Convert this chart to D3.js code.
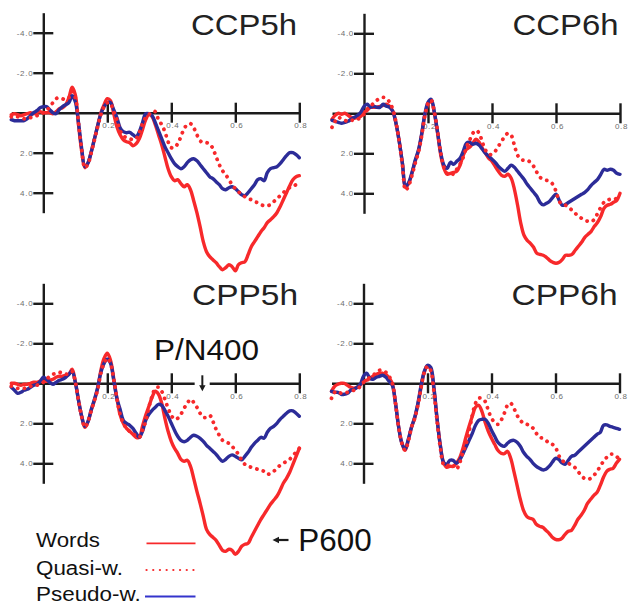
<!DOCTYPE html>
<html><head><meta charset="utf-8">
<script src="https://cdn.jsdelivr.net/npm/d3@7"></script>
<style>
html,body{margin:0;padding:0;background:#fff;}
svg{display:block;font-family:"Liberation Sans",Arial,Helvetica,sans-serif;}
</style>
</head><body>
<svg id="chart" width="629" height="605"></svg>
<script>
// ---------- data ----------
const times = [
 -0.10,-0.09,-0.08,-0.07,-0.06,-0.05,-0.04,-0.03,-0.02,-0.01,
 0.00,0.01,0.02,0.03,0.04,0.05,0.06,0.07,0.08,0.09,
 0.10,0.11,0.12,0.13,0.14,0.15,0.16,0.17,0.18,0.19,
 0.20,0.21,0.22,0.23,0.24,0.25,0.26,0.27,0.28,0.29,
 0.30,0.31,0.32,0.33,0.34,0.35,0.36,0.37,0.38,0.39,
 0.40,0.41,0.42,0.43,0.44,0.45,0.46,0.47,0.48,0.49,
 0.50,0.51,0.52,0.53,0.54,0.55,0.56,0.57,0.58,0.59,
 0.60,0.61,0.62,0.63,0.64,0.65,0.66,0.67,0.68,0.69,
 0.70,0.71,0.72,0.73,0.74,0.75,0.76,0.77,0.78,0.79,
 0.80];
const seriesNames = ["Words", "Quasi-w.", "Pseudo-w."];
const panelTitles = ["CCP5h", "CCP6h", "CPP5h", "CPP6h"];
const yTickValues = [-4, -2, 2, 4];
const xTickValues = [0.2, 0.4, 0.6, 0.8];
const annotations = ["P/N400", "P600"];

// CCP5h
const ccp5hWords = [
 0.1,0.05,0.1,0.15,0.1,0.05,0.0,0.05,0.0,-0.05,
 0.0,0.0,0.0,0.05,-0.05,-0.2,-0.25,-0.4,-0.75,-1.27,
 -0.9,0.6,1.93,2.75,2.5,1.95,1.3,0.65,0.0,-0.4,
 -0.7,-0.6,0.05,0.7,1.1,1.35,1.45,1.5,1.65,1.55,
 1.3,0.85,0.35,0.1,0.2,0.6,1.1,1.6,2.2,2.8,
 3.2,3.4,3.35,3.55,3.7,3.6,3.85,4.4,5.0,5.7,
 6.45,6.95,7.2,7.35,7.5,7.7,7.85,7.75,7.6,7.7,
 7.9,7.6,7.5,7.45,7.1,6.7,6.45,6.2,5.95,5.75,
 5.5,5.35,5.2,5.0,4.7,4.35,4.0,3.65,3.35,3.2,
 3.15];
const ccp5hQuasi = [
 0.2,0.15,0.2,0.25,0.3,0.3,0.25,0.2,0.15,0.1,
 0.0,-0.1,-0.3,-0.5,-0.7,-0.75,-0.7,-0.65,-0.75,-1.05,
 -0.75,0.5,1.85,2.75,2.55,2.0,1.35,0.7,0.1,-0.3,
 -0.5,-0.45,-0.05,0.35,0.9,1.15,1.25,1.3,1.35,1.3,
 1.0,0.55,0.25,0.1,-0.05,-0.05,0.35,0.6,0.95,1.45,
 1.75,1.75,1.55,1.2,0.8,0.6,0.55,0.75,1.1,1.4,
 1.5,1.5,1.55,1.8,2.2,2.6,2.9,3.1,3.35,3.6,
 3.8,3.95,4.1,4.2,4.3,4.35,4.45,4.5,4.6,4.65,
 4.65,4.6,4.45,4.3,4.15,4.0,3.85,3.75,3.7,3.6,
 3.6];
const ccp5hPseudo = [
 0.35,0.4,0.4,0.4,0.4,0.3,0.15,0.0,-0.1,-0.25,
 -0.3,-0.3,-0.15,0.0,0.05,-0.15,-0.3,-0.4,-0.5,-0.85,
 -0.55,0.5,1.8,2.7,2.5,1.95,1.3,0.65,0.05,-0.3,
 -0.5,-0.5,-0.15,0.25,0.75,0.95,1.0,0.98,1.1,1.2,
 0.95,0.5,0.05,0.05,0.15,0.5,0.9,1.3,1.7,2.0,
 2.3,2.55,2.7,2.8,2.7,2.5,2.35,2.3,2.4,2.6,
 2.8,3.0,3.2,3.3,3.45,3.6,3.8,3.85,3.75,3.7,
 3.8,3.95,4.1,4.15,4.0,3.8,3.6,3.35,3.3,3.4,
 3.0,2.8,2.75,2.7,2.55,2.35,2.15,2.0,2.0,2.1,
 2.25];

// CCP6h
const ccp6hWords = [
 0.3,0.1,0.0,0.05,0.0,0.1,0.2,0.25,0.2,0.15,
 -0.05,-0.15,-0.3,-0.3,-0.3,-0.35,-0.4,-0.45,-0.35,-0.1,
 0.5,1.4,2.5,3.7,3.5,3.0,2.4,1.9,1.1,0.1,
 -0.45,-0.6,0.0,1.0,2.1,2.75,3.05,3.0,2.95,2.9,
 2.6,2.1,1.8,1.7,1.5,1.3,1.45,1.75,2.0,2.25,
 2.4,2.65,2.9,3.1,3.15,3.05,3.25,3.8,4.6,5.5,
 6.1,6.35,6.5,6.7,7.0,7.05,7.1,7.2,7.35,7.45,
 7.5,7.45,7.3,7.1,7.1,7.05,6.85,6.65,6.45,6.2,
 6.05,5.9,5.65,5.45,5.15,4.75,4.6,4.55,4.45,4.35,
 4.0];
const ccp6hQuasi = [
 0.7,0.4,0.2,0.3,0.35,0.4,0.35,0.35,0.3,0.2,
 0.05,-0.2,-0.35,-0.5,-0.65,-0.75,-0.8,-0.75,-0.55,-0.2,
 0.45,1.4,2.6,3.85,3.6,3.1,2.5,1.95,1.15,0.15,
 -0.5,-0.65,-0.05,0.9,2.0,2.7,3.0,2.95,3.05,2.8,
 2.55,2.2,1.7,1.35,1.0,0.85,1.0,1.45,1.85,2.05,
 2.05,1.9,1.65,1.4,1.15,1.0,1.1,1.6,2.1,2.3,
 2.35,2.35,2.45,2.65,2.95,3.2,3.3,3.35,3.4,3.55,
 3.9,4.4,4.55,4.6,4.7,4.85,5.0,5.15,5.25,5.35,
 5.4,5.42,5.3,5.0,4.7,4.45,4.35,4.3,4.3,4.25,
 4.1];
const ccp6hPseudo = [
 0.35,0.4,0.45,0.5,0.45,0.4,0.3,0.2,0.1,-0.05,
 -0.35,-0.45,-0.3,-0.35,-0.3,-0.3,-0.45,-0.35,-0.3,-0.1,
 0.5,1.4,2.5,3.65,3.45,2.95,2.35,1.85,1.05,0.05,
 -0.55,-0.7,-0.05,0.95,2.0,2.6,2.75,2.45,2.55,2.4,
 2.25,1.9,1.5,1.45,1.55,1.5,1.6,1.8,2.0,2.15,
 2.3,2.45,2.65,2.8,2.9,2.75,2.6,2.7,2.9,3.1,
 3.3,3.55,3.75,3.95,4.15,4.45,4.58,4.5,4.4,4.2,
 4.05,4.35,4.6,4.55,4.45,4.35,4.25,4.15,4.05,3.95,
 3.8,3.6,3.45,3.3,3.05,2.8,2.85,2.8,2.85,3.0,
 3.05];

// CPP5h
const cpp5hWords = [
 0.0,0.0,0.05,0.1,0.05,0.05,0.0,-0.05,-0.05,-0.1,
 -0.1,-0.1,-0.15,-0.2,-0.3,-0.35,-0.35,-0.4,-0.45,-0.7,
 -0.1,0.85,1.67,2.2,1.9,1.35,0.85,0.25,-0.65,-1.25,
 -1.5,-1.15,-0.25,0.75,1.58,2.0,2.25,2.4,2.55,2.7,
 2.7,2.15,1.6,1.15,0.7,0.4,0.55,1.0,1.75,2.4,
 2.9,3.25,3.5,3.8,3.9,3.85,4.15,4.75,5.4,6.0,
 6.65,7.3,7.55,7.7,7.85,8.1,8.35,8.4,8.3,8.35,
 8.55,8.4,8.15,8.05,8.0,7.7,7.4,7.1,6.8,6.55,
 6.3,6.05,5.85,5.65,5.35,5.0,4.75,4.45,4.05,3.65,
 3.25];
const cpp5hQuasi = [
 0.15,0.2,0.25,0.25,0.25,0.2,0.15,0.15,0.1,0.0,
 -0.05,-0.2,-0.35,-0.45,-0.5,-0.55,-0.5,-0.45,-0.5,-0.6,
 -0.05,0.85,1.67,2.2,1.9,1.35,0.85,0.3,-0.5,-1.0,
 -1.25,-1.0,-0.2,0.75,1.55,2.0,2.25,2.4,2.5,2.65,
 2.7,2.35,1.9,1.2,0.65,0.25,0.2,0.4,0.8,1.25,
 1.6,1.8,1.75,1.55,1.25,1.0,0.8,0.95,1.2,1.5,
 1.7,1.7,1.6,1.9,2.3,2.6,2.85,2.95,3.0,3.15,
 3.35,3.55,3.85,4.05,4.15,4.2,4.25,4.3,4.35,4.4,
 4.55,4.5,4.4,4.25,4.1,4.0,3.9,3.8,3.6,3.45,
 3.25];
const cpp5hPseudo = [
 0.2,0.35,0.5,0.45,0.35,0.3,0.2,0.1,0.05,-0.1,
 -0.3,-0.2,-0.05,0.05,-0.05,-0.15,-0.2,-0.3,-0.45,-0.6,
 -0.05,0.85,1.65,2.15,1.9,1.3,0.8,0.2,-0.55,-1.0,
 -1.2,-1.0,-0.15,0.75,1.3,1.85,2.0,2.1,2.25,2.5,
 2.7,2.4,1.85,1.55,1.35,1.2,1.05,1.1,1.35,1.65,
 2.0,2.35,2.65,2.85,2.92,2.85,2.7,2.6,2.65,2.75,
 2.9,3.1,3.25,3.4,3.55,3.75,3.9,3.8,3.65,3.58,
 3.65,3.75,3.83,3.65,3.45,3.2,3.0,2.85,2.7,2.75,
 2.45,2.25,2.15,2.0,1.8,1.65,1.5,1.38,1.38,1.5,
 1.65];

// CPP6h
const cpp6hWords = [
 0.4,0.15,0.05,0.0,0.0,0.1,0.2,0.25,0.2,0.1,
 -0.1,-0.15,-0.25,-0.35,-0.45,-0.5,-0.5,-0.45,-0.25,0.0,
 1.0,2.2,3.0,3.35,2.85,2.2,1.75,1.05,0.2,-0.55,
 -0.85,-0.7,0.3,1.8,3.1,3.95,4.2,4.15,4.15,4.0,
 3.75,3.3,2.7,2.15,1.65,1.2,1.1,1.4,1.95,2.4,
 2.75,3.05,3.35,3.5,3.52,3.4,3.75,4.4,5.1,5.8,
 6.35,6.65,6.75,6.8,7.05,7.15,7.2,7.35,7.5,7.7,
 7.8,7.82,7.75,7.55,7.4,7.35,7.1,6.8,6.6,6.35,
 6.0,5.8,5.6,5.45,5.1,4.7,4.4,4.3,4.25,4.0,
 3.8];
const cpp6hQuasi = [
 0.75,0.45,0.4,0.5,0.5,0.45,0.4,0.35,0.3,0.15,
 -0.05,-0.15,-0.3,-0.4,-0.55,-0.65,-0.65,-0.55,-0.35,0.0,
 1.0,2.2,3.0,3.35,2.9,2.2,1.75,1.1,0.2,-0.55,
 -0.85,-0.65,0.4,1.9,3.2,4.05,4.15,4.05,4.1,4.3,
 4.0,3.5,3.05,2.4,1.6,1.0,0.75,0.75,0.9,1.35,
 1.75,1.95,2.05,1.85,1.5,1.1,1.0,1.25,1.6,1.85,
 2.0,2.05,2.1,2.25,2.5,2.7,2.75,2.85,3.0,3.05,
 3.2,3.6,3.85,3.95,4.0,4.1,4.2,4.4,4.6,4.75,
 4.8,4.75,4.6,4.4,4.15,3.9,3.7,3.55,3.55,3.65,
 3.8];
const cpp6hPseudo = [
 0.4,0.45,0.45,0.55,0.55,0.5,0.35,0.3,0.2,0.05,
 -0.35,-0.5,-0.25,-0.2,-0.3,-0.35,-0.4,-0.3,-0.1,0.1,
 1.0,2.2,3.0,3.3,2.8,2.2,1.7,1.0,0.1,-0.6,
 -0.9,-0.8,0.2,1.8,3.1,3.95,4.05,3.85,3.85,4.0,
 3.85,3.55,3.2,2.85,2.5,2.1,1.85,1.8,1.8,2.0,
 2.35,2.65,2.95,3.1,3.15,3.0,2.88,2.85,2.95,3.15,
 3.45,3.65,3.8,4.0,4.15,4.25,4.33,4.3,4.15,3.95,
 3.75,3.8,3.98,4.05,3.85,3.65,3.6,3.45,3.3,3.15,
 3.0,2.85,2.7,2.55,2.45,2.1,2.08,2.15,2.2,2.25,
 2.3];

// ---------- layout / style ----------
const RED = "#f7292b", BLUE = "#2c2c98", INK = "#1c1c1c";
const panels = [
  {title: panelTitles[0], ox: 43.3,  oy: 112.7, s: [ccp5hWords, ccp5hQuasi, ccp5hPseudo], tx: 297, ty: 35},
  {title: panelTitles[1], ox: 364,   oy: 113.3, s: [ccp6hWords, ccp6hQuasi, ccp6hPseudo], tx: 618.5, ty: 35},
  {title: panelTitles[2], ox: 43.3,  oy: 383.3, s: [cpp5hWords, cpp5hQuasi, cpp5hPseudo], tx: 298, ty: 305},
  {title: panelTitles[3], ox: 363.5, oy: 383.3, s: [cpp6hWords, cpp6hQuasi, cpp6hPseudo], tx: 617.5, ty: 305}
];
const styles = [
  {stroke: RED,  width: 3.4, dash: null},
  {stroke: RED,  width: 3.8, dash: "0.1 6.6"},
  {stroke: BLUE, width: 3.4, dash: null}
];
const drawOrder = [0, 2, 1];

const svg = d3.select("#chart");
svg.append("rect").attr("width", 629).attr("height", 605).attr("fill", "#fff");

panels.forEach((p, pi) => {
  const x = d3.scaleLinear().domain([-0.1, 0.8]).range([p.ox - 32, p.ox + 256]);
  const y = d3.scaleLinear().domain([-5, 5]).range([p.oy - 100, p.oy + 100]);
  const g = svg.append("g");

  // title
  g.append("text").attr("x", p.tx).attr("y", p.ty)
    .attr("text-anchor", "end").attr("font-size", 30).attr("fill", "#222")
    .attr("textLength", 106).attr("lengthAdjust", "spacingAndGlyphs")
    .text(p.title);

  // x axis
  const xa = g.append("g").attr("transform", `translate(0,${p.oy})`)
    .call(d3.axisBottom(x).tickValues(xTickValues).tickFormat(d => d.toFixed(1))
      .tickSizeInner(10).tickSizeOuter(0).tickPadding(0));
  xa.selectAll(".tick line").attr("y1", -10);
  xa.selectAll("path.domain, .tick line").attr("stroke", INK).attr("stroke-width", 2.4);
  xa.selectAll(".tick text").attr("font-size", 8).attr("fill", "#6e6e6e")
    .attr("letter-spacing", 0.6).attr("dx", 1).attr("font-family", "Liberation Sans, Arial, sans-serif");

  // gap + arrow for P/N400 on CPP5h
  if (pi === 2) {
    g.append("rect").attr("x", x(0.473)).attr("y", p.oy - 2.5)
      .attr("width", x(0.52) - x(0.473)).attr("height", 5).attr("fill", "#fff");
    const ax = x(0.497);
    g.append("line").attr("x1", ax).attr("x2", ax).attr("y1", p.oy - 8).attr("y2", p.oy + 3)
      .attr("stroke", INK).attr("stroke-width", 2);
    g.append("path").attr("d", `M${ax - 3.2},${p.oy + 2} L${ax + 3.2},${p.oy + 2} L${ax},${p.oy + 8} Z`)
      .attr("fill", INK);
  }

  // y axis
  const ya = g.append("g").attr("transform", `translate(${x(0)},0)`)
    .call(d3.axisLeft(y).tickValues(yTickValues).tickFormat(d => d.toFixed(1))
      .tickSizeInner(10).tickSizeOuter(0).tickPadding(0));
  ya.selectAll(".tick line").attr("x1", 10);
  ya.selectAll("path.domain, .tick line").attr("stroke", INK).attr("stroke-width", 2.4);
  ya.selectAll(".tick text").attr("font-size", 8).attr("fill", "#6e6e6e")
    .attr("letter-spacing", 0.7).attr("font-family", "Liberation Sans, Arial, sans-serif");

  // curves
  const line = d3.line().x((d, i) => x(times[i])).y(d => y(d)).curve(d3.curveCatmullRom.alpha(0.5));
  drawOrder.forEach(k => {
    const st = styles[k];
    const path = g.append("path").datum(p.s[k]).attr("d", line)
      .attr("fill", "none").attr("stroke", st.stroke).attr("stroke-width", st.width)
      .attr("stroke-linejoin", "round").attr("stroke-linecap", "round");
    if (st.dash) path.attr("stroke-dasharray", st.dash);
  });
});

// ---------- annotations ----------
svg.append("text").attr("x", 154).attr("y", 359.5).attr("font-size", 29).attr("fill", "#111")
  .attr("textLength", 105).attr("lengthAdjust", "spacingAndGlyphs").text(annotations[0]);
svg.append("text").attr("x", 298.3).attr("y", 550.7).attr("font-size", 31).attr("fill", "#111")
  .attr("textLength", 73.4).attr("lengthAdjust", "spacingAndGlyphs").text(annotations[1]);
svg.append("line").attr("x1", 288.5).attr("x2", 277).attr("y1", 540).attr("y2", 540)
  .attr("stroke", INK).attr("stroke-width", 2.2);
svg.append("path").attr("d", "M272.5,540 L279,536.8 L279,543.2 Z").attr("fill", INK);

// ---------- legend ----------
const legendText = [
  {y: 546.7, len: 64},
  {y: 575, len: 87},
  {y: 600.5, len: 104.7}
];
const legendLineY = [543.3, 570, 596.5];
seriesNames.forEach((name, i) => {
  svg.append("text").attr("x", 36).attr("y", legendText[i].y).attr("font-size", 19.5).attr("fill", "#111")
    .attr("textLength", legendText[i].len).attr("lengthAdjust", "spacingAndGlyphs").text(name);
  const ln = svg.append("line").attr("x1", i === 2 ? 145 : 146.5).attr("x2", 195.5)
    .attr("y1", legendLineY[i]).attr("y2", legendLineY[i])
    .attr("stroke", i === 2 ? "#3434cc" : RED);
  if (i === 1) ln.attr("stroke-width", 2.2).attr("stroke-dasharray", "0.1 6.6").attr("stroke-linecap", "round");
  else ln.attr("stroke-width", 1.8);
});
</script>
</body></html>
